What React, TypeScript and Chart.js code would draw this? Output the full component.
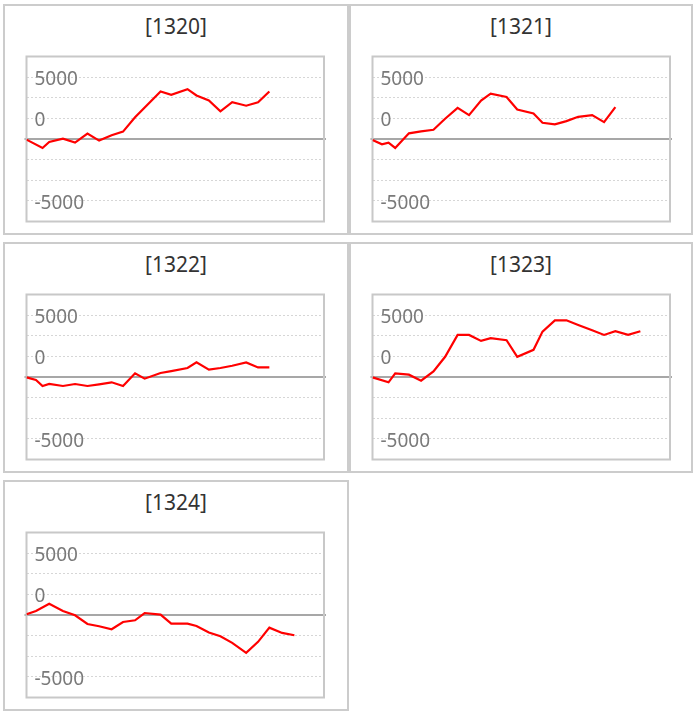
import React, { useEffect, useRef } from 'react';
import { Chart, registerables } from 'chart.js';

Chart.register(...registerables);

// ---- data ----
const TITLES = ['[1320]', '[1321]', '[1322]', '[1323]', '[1324]'];

const X_VALUES = [0, 0.78, 1.32, 1.87, 3.0, 4.0, 5.02, 5.98, 7.01, 7.95, 8.94, 9.73, 11.04, 11.92, 13.26, 14.0, 15.02, 15.97, 16.94, 18.09, 19.07, 20.0, 21.05, 22.06];
const X_MIN = 0;
const X_MAX = 24.5;

const S1320 = [-50, null, -725, -240, 30, -290, 435, -130, 300, 595, 1750, null, 3845, 3565, 4030, 3520, 3120, 2230, 2980, 2690, 2960, 3845, null, null];
const S1321 = [-80, -430, -295, -725, 455, 615, 750, 1635, 2520, 1930, 3110, 3670, 3400, 2385, 2065, 1315, 1180, 1445, 1795, 1930, 1365, 2575, null, null];
const S1322 = [-27, -240, -725, -565, -725, -565, -725, -590, -430, -725, 295, -135, 320, 480, 725, 1180, 590, 725, 910, 1180, 775, 775, null, null];
const S1323 = [-27, null, -430, 295, 190, -295, 455, 1635, 3400, 3400, 2920, 3135, 2975, 1635, 2200, 3670, 4580, 4580, 4210, 3780, 3400, 3700, 3400, 3700];
const S1324 = [55, 320, null, 910, 320, -27, -725, -910, -1150, -565, -430, 160, 27, -700, -700, -885, -1420, -1715, -2250, -3055, -2170, -1020, -1450, -1635];

const SERIES = [S1320, S1321, S1322, S1323, S1324];

const Y_MIN = -6666.67;
const Y_MAX = 6666.67;
const Y_TICKS = [-6666.67, -5000, -3333.33, -1666.67, 0, 1666.67, 3333.33, 5000, 6666.67];
const Y_LABELS = ['', '-5000', '', '', '', '0', '', '5000', ''];

const framePlugin = {
  id: 'frame',
  beforeDatasetsDraw(chart: any) {
    const { ctx, chartArea: a, scales } = chart;
    const y0 = scales.y.getPixelForValue(0);
    ctx.save();
    ctx.strokeStyle = '#8a8a8a';
    ctx.lineWidth = 1.5;
    ctx.beginPath();
    ctx.moveTo(a.left - 2, y0);
    ctx.lineTo(a.right + 2, y0);
    ctx.stroke();
    ctx.strokeStyle = '#c8c8c8';
    ctx.lineWidth = 2;
    ctx.strokeRect(a.left, a.top, a.right - a.left, a.bottom - a.top);
    ctx.restore();
  },
};

function MiniChart({ title, values, width }: { title: string; values: (number | null)[]; width: number }) {
  const ref = useRef<HTMLCanvasElement | null>(null);
  const cw = width - 4;
  const ch = 227;
  useEffect(() => {
    if (!ref.current) return;
    const points = X_VALUES.map((x, i) => ({ x, y: values[i] }));
    const chart = new Chart(ref.current, {
      type: 'line',
      data: {
        datasets: [
          {
            data: points as any,
            borderColor: '#ff0000',
            borderWidth: 2.2,
            pointRadius: 0,
            tension: 0,
            spanGaps: true,
            fill: false,
          },
        ],
      },
      options: {
        animation: false,
        responsive: false,
        events: [],
        layout: {
          autoPadding: false,
          padding: { left: 21.5, top: 50.5, right: cw - 319, bottom: ch - 215.5 },
        },
        plugins: {
          legend: { display: false },
          tooltip: { enabled: false },
          title: { display: false },
        },
        scales: {
          x: {
            type: 'linear',
            min: X_MIN,
            max: X_MAX,
            display: false,
          },
          y: {
            type: 'linear',
            min: Y_MIN,
            max: Y_MAX,
            afterBuildTicks(scale: any) {
              scale.ticks = Y_TICKS.map((v) => ({ value: v }));
            },
            afterFit(scale: any) {
              scale.width = 0;
              scale.paddingTop = 0;
              scale.paddingBottom = 0;
            },
            border: { display: false, dash: [2, 2] },
            grid: {
              drawTicks: false,
              lineWidth: 1,
              color: (c: any) => {
                const v = c.tick ? c.tick.value : null;
                if (v === 0 || v === Y_MIN || v === Y_MAX) return 'rgba(0,0,0,0)';
                return '#d6d6d6';
              },
            },
            ticks: {
              autoSkip: false,
              mirror: true,
              padding: 8,
              labelOffset: 2.5,
              color: '#7a7a7a',
              font: { family: "'Noto Sans', sans-serif", size: 19 },
              callback: (_v: any, i: number) => Y_LABELS[i],
            },
          },
        },
      },
      plugins: [framePlugin],
    });
    return () => chart.destroy();
  }, [values, cw]);

  return (
    <>
      <div
        style={{
          position: 'absolute',
          left: 0,
          top: 10,
          width: '100%',
          textAlign: 'center',
          fontFamily: "'Noto Sans', sans-serif",
          fontSize: 21,
          lineHeight: '21px',
          color: '#333',
        }}
      >
        {title}
      </div>
      <canvas
        ref={ref}
        width={cw}
        height={ch}
        style={{ position: 'absolute', left: 0, top: 0, width: cw, height: ch }}
      />
    </>
  );
}

export default function App() {
  const lefts = [3, 349];
  const widths = [346, 344];
  return (
    <div style={{ position: 'absolute', left: 0, top: 0, width: 696, height: 715, background: '#fff' }}>
      {TITLES.map((t, i) => {
        const col = i % 2;
        const row = Math.floor(i / 2);
        return (
          <div
            key={t}
            style={{
              position: 'absolute',
              left: lefts[col],
              top: 4 + row * 238,
              width: widths[col],
              height: 231,
              boxSizing: 'border-box',
              border: '2px solid #cccccc',
              background: '#fff',
            }}
          >
            <MiniChart title={t} values={SERIES[i]} width={widths[col]} />
          </div>
        );
      })}
    </div>
  );
}
